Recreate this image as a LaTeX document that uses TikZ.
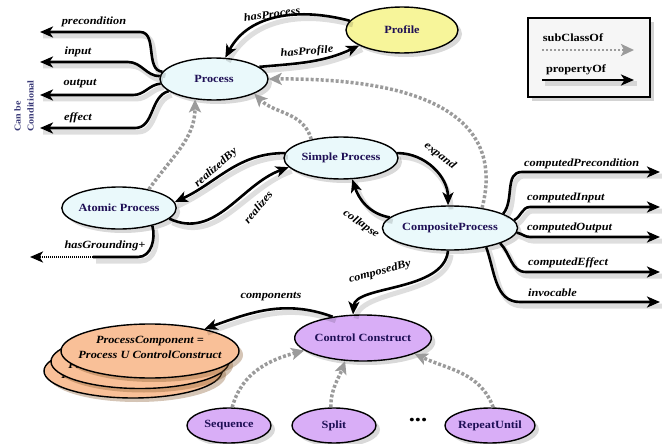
\documentclass[tikz,border=0pt]{standalone}
\usepackage{fontspec}
\setmainfont{Liberation Serif}[FakeStretch=1.12]
\usetikzlibrary{shapes.geometric,arrows.meta,shadows}
\definecolor{navy}{RGB}{30,15,85}
\definecolor{pcyan}{RGB}{234,249,251}
\definecolor{pyellow}{RGB}{247,245,154}
\definecolor{ppurple}{RGB}{217,174,247}
\definecolor{porange}{RGB}{249,192,152}
\definecolor{scgray}{RGB}{155,155,155}
\definecolor{condblue}{RGB}{58,58,120}
\definecolor{legfill}{RGB}{246,246,246}
\begin{document}
\begin{tikzpicture}[x=1pt,y=1pt,
  cls/.style={ellipse, draw=black, line width=1.4pt, inner sep=0pt,
    font=\fontsize{11}{13}\selectfont\bfseries, text=navy,
    drop shadow={shadow xshift=4pt, shadow yshift=-4pt, opacity=0.3}},
  procnode/.style={cls, fill=pcyan},
  profnode/.style={cls, fill=pyellow},
  ctrlnode/.style={cls, fill=ppurple},
  stackshape/.style={ellipse, draw=black, line width=1.4pt, inner sep=0pt, fill=porange,
    minimum width=178pt, minimum height=54pt,
    drop shadow={shadow xshift=4pt, shadow yshift=-4pt, opacity=0.35, fill=brown!70!black}},
  stacktext/.style={align=center, text=black, inner sep=0pt,
    font=\fontsize{11}{15}\selectfont\bfseries\itshape},
  elab/.style={font=\fontsize{11}{13}\selectfont\bfseries\itshape, inner sep=0pt},
  edgeshadow/.style={preaction={draw=black, opacity=0.13, line width=5pt, -,
    transform canvas={xshift=3pt,yshift=-4pt}}},
  propline/.style={draw=black, line width=2.6pt, edgeshadow},
  prop/.style={propline, -{Stealth[length=13pt,width=11pt,inset=3.5pt]}},
  dotarrow/.style={draw=black, line width=2.4pt, dash pattern=on 1pt off 1pt,
    -{Stealth[length=13pt,width=11pt,inset=3.5pt]}},
  sub/.style={draw=scgray, line width=3.5pt, dash pattern=on 3pt off 2pt,
    -{Stealth[length=13pt,width=12pt,inset=3pt]}},
]
\useasboundingbox (0,0) rectangle (662,-444);

% ---------- nodes ----------
\node[procnode, minimum width=108pt, minimum height=42pt] (Process) at (214,-79) {Process};
\node[profnode, minimum width=112pt, minimum height=46pt] (Profile) at (402,-30) {Profile};
\node[procnode, minimum width=114pt, minimum height=42pt] (SimpleP) at (341,-158) {Simple Process};
\node[procnode, minimum width=112pt, minimum height=42pt] (Atomic) at (119,-208) {Atomic Process};
\node[procnode, minimum width=110pt, minimum height=44pt] (Composite) at (450,-228) {CompositeProcess};
\node[ctrlnode, minimum width=114pt, minimum height=46pt] (Control) at (363,-338) {Control Construct};
\node[ctrlnode, minimum width=84pt, minimum height=35pt] (Sequence) at (229,-425.5) {Sequence};
\node[ctrlnode, minimum width=84pt, minimum height=35pt] (Split) at (334,-425.5) {Split};
\node[ctrlnode, minimum width=86pt, minimum height=35pt] (Repeat) at (490,-425.5) {RepeatUntil};
\node[font=\fontsize{22}{22}\selectfont\bfseries] (dots) at (418,-420) {...};

\node[stackshape] (stackC) at (133,-371) {};
\node[stacktext] (tC) at (133,-367.5) {ProcessComponent =\\Process U ControlConstruct};
\node[stackshape] (stackB) at (140,-361.5) {};
\node[stacktext] (tB) at (140,-357.5) {ProcessComponent =\\Process U ControlConstruct};
\node[stackshape] (stackA) at (150,-351) {};
\node[stacktext] (tA) at (150,-347.5) {ProcessComponent =\\Process U ControlConstruct};

\node[rotate=90, align=left, font=\fontsize{9}{13}\selectfont\bfseries, text=condblue]
  (cond) at (24,-106) {Can be\\Conditional};

% ---------- legend ----------
\node[rectangle, draw=black, line width=2.4pt, fill=legfill, minimum width=122pt, minimum height=79pt,
  drop shadow={shadow xshift=4pt, shadow yshift=-4pt, opacity=0.35}] (legend) at (589,-57.5) {};
\node[font=\fontsize{11}{13}\selectfont\bfseries] (lsc) at (573,-38) {subClassOf};
\node[font=\fontsize{11}{13}\selectfont\bfseries] (lpo) at (576,-70) {propertyOf};
\coordinate (lsA) at (542,-50);
\coordinate (lsB) at (634,-50);
\coordinate (lpA) at (542,-80);
\coordinate (lpB) at (634,-80);
\draw[sub, line width=2.6pt, dash pattern=on 2pt off 2pt] (lsA) -- (lsB);
\draw[prop] (lpA) -- (lpB);

% ---------- Process properties ----------
\coordinate (preT) at (40,-32);
\coordinate (inT) at (40,-62);
\coordinate (outT) at (40,-95);
\coordinate (effT) at (40,-128);
\draw[prop] (Process.172) to[out=175,in=0] (140,-32) -- (preT);
\draw[prop] (Process.177) to[out=180,in=0] (128,-62) -- (inT);
\draw[prop] (Process.185) to[out=185,in=0] (133,-95) -- (outT);
\draw[prop] (Process.195) to[out=195,in=0] (135,-128) -- (effT);
\node[elab] (lpre) at (94,-22) {precondition};
\node[elab] (lin) at (78,-52) {input};
\node[elab] (lout) at (80,-84) {output};
\node[elab] (leff) at (78,-118) {effect};

\draw[prop] (Profile.170) to[out=165,in=62] (Process.62);
\node[elab, rotate=8] (lhp) at (272,-14) {hasProcess};
\draw[prop] (Process.15) to[out=5,in=205] (Profile.200);
\node[elab, rotate=5] (lhf) at (307,-52) {hasProfile};

% ---------- subclass ----------
\draw[sub] (Composite.32) .. controls (505,-120) and (430,-78) .. (Process.east);
\draw[sub] (SimpleP.148) to[out=105,in=-45] (Process.-20);
\draw[sub] (Atomic.32) to[out=55,in=-90] (Process.-133);
\draw[sub] (Sequence.80) to[out=75,in=195] (Control.192);
\draw[sub] (Split.100) to[out=90,in=-110] (Control.-128);
\draw[sub] (Repeat.80) to[out=110,in=-25] (Control.-17);

% ---------- realizedBy / realizes ----------
\draw[prop] (SimpleP.175) to[out=180,in=25] (Atomic.6);
\node[elab, rotate=42] (lrb) at (216,-168) {realizedBy};
\draw[prop] (Atomic.-12) to[out=-25,in=200] (SimpleP.190);
\node[elab, rotate=50] (lrz) at (258,-207) {realizes};

% ---------- hasGrounding ----------
\coordinate (hgM) at (93,-257);
\coordinate (hgT) at (30,-257);
\draw[propline] (Atomic.-28) to[out=-75,in=0] (138,-257) -- (hgM);
\draw[dotarrow] (hgM) -- (hgT);
\node[elab] (lhg) at (105,-246) {hasGrounding+};

% ---------- expand / collapse ----------
\draw[prop] (SimpleP.5) to[out=0,in=90] (Composite.95);
\node[elab, rotate=-38] (lex) at (440,-156) {expand};
\draw[prop] (Composite.170) to[out=170,in=-72] (SimpleP.-62);
\node[elab, rotate=-35] (lcl) at (361,-224) {collapse};

% ---------- composedBy / components ----------
\draw[prop] (Composite.-95) .. controls (444,-292) and (355,-285) .. (Control.113);
\node[elab, rotate=15] (lcb) at (380,-272) {composedBy};
\draw[prop] (Control.145) to[out=160,in=20] (stackA.22);
\node[elab] (lcm) at (271,-297) {components};

% ---------- CompositeProcess properties ----------
\coordinate (cpT) at (660,-172);
\coordinate (ciT) at (660,-207);
\coordinate (coT) at (660,-237);
\coordinate (ceT) at (660,-272);
\coordinate (ivT) at (660,-302);
\draw[prop] (Composite.15) to[out=50,in=180] (522,-172) -- (cpT);
\draw[prop] (Composite.7) to[out=25,in=180] (530,-207) -- (ciT);
\draw[prop] (Composite.-4) to[out=-10,in=180] (530,-237) -- (coT);
\draw[prop] (Composite.-17) to[out=-45,in=180] (526,-272) -- (ceT);
\draw[prop] (Composite.-28) to[out=-70,in=180] (520,-302) -- (ivT);
\node[elab, anchor=base west] (lcp) at (524,-166.5) {computedPrecondition};
\node[elab, anchor=base west] (lci) at (527,-200) {computedInput};
\node[elab, anchor=base west] (lco) at (527,-230.5) {computedOutput};
\node[elab, anchor=base west] (lce) at (528,-265) {computedEffect};
\node[elab, anchor=base west] (liv) at (528,-296) {invocable};
\end{tikzpicture}
\end{document}
